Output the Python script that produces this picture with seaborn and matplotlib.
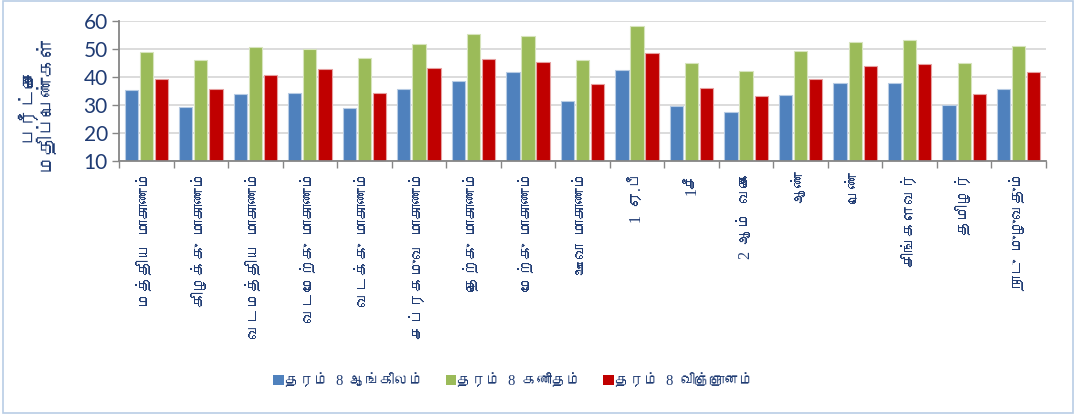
import matplotlib
matplotlib.use("Agg")
import matplotlib.pyplot as plt
import seaborn as sns
import pandas as pd
import numpy as np
from matplotlib import font_manager
from matplotlib.patches import Rectangle, Patch
from matplotlib.ticker import FixedLocator

categories = ["மத்திய  மாகாணம்", "கிழக்கு  மாகாணம்", "வடமத்திய  மாகாணம்",
              "வடமேற்கு  மாகாணம்", "வடக்கு  மாகாணம்", "சப்ரகமுவ  மாகாணம்",
              "தெற்கு  மாகாணம்", "மேற்கு  மாகாணம்", "ஊவா  மாகாணம்",
              "1  ஏ.பீ", "1சீ", "2  ஆம்  வகை", "ஆண்", "பெண்",
              "சிங்களவர்", "தமிழர்", "நாடு  முழுவதும்"]
series_names = ["தரம்  8  ஆங்கிலம்", "தரம்  8  கணிதம்", "தரம்  8  விஞ்ஞானம்"]
english = [35.4, 29.2, 33.9, 34.3, 28.9, 35.6, 38.6, 41.7, 31.4,
           42.6, 29.6, 27.5, 33.5, 37.9, 37.7, 30.1, 35.7]
maths = [48.8, 46.1, 50.7, 50.0, 46.9, 51.8, 55.5, 54.8, 46.0,
         58.1, 44.9, 42.3, 49.3, 52.5, 53.2, 45.0, 50.9]
science = [39.2, 35.6, 40.8, 42.9, 34.2, 43.2, 46.3, 45.4, 37.5,
           48.6, 36.0, 33.2, 39.4, 43.8, 44.5, 33.9, 41.8]
y_ticks = [10, 20, 30, 40, 50, 60]
y_label = "பரீட்சை\nமதிப்பெண்கள்"

colors = ["#4F81BD", "#9BBB59", "#C00000"]
edge_colors = ["#B8CCE4", "#D7E4BD", "#E6A0A0"]
navy = "#1F3B73"


def find_tamil_font():
    try:
        from fontTools.ttLib import TTFont
    except Exception:
        return None
    seen = set()
    for f in font_manager.fontManager.ttflist:
        if f.fname in seen:
            continue
        seen.add(f.fname)
        try:
            tt = TTFont(f.fname, fontNumber=0, lazy=True)
            cmap = tt.getBestCmap()
            if cmap and 0x0B95 in cmap and 0x0BAE in cmap:
                return f.name
        except Exception:
            continue
    return None


sns.set_theme(style="white")
tamil = find_tamil_font()
fams = ["Liberation Serif"] + ([tamil] if tamil else []) + ["DejaVu Sans"]
plt.rcParams["font.family"] = fams

df = pd.DataFrame({
    "cat": categories * 3,
    "series": sum([[s] * len(categories) for s in series_names], []),
    "value": english + maths + science,
})

fig = plt.figure(figsize=(10.79, 4.15), dpi=100)
ax = fig.add_axes([119 / 1079, 1 - 161 / 415, (1046 - 119) / 1079, 140 / 415])

sns.barplot(data=df, x="cat", y="value", hue="series", palette=colors,
            saturation=1, width=0.83, gap=0.12, ax=ax, legend=False,
            errorbar=None)

# subtle light edges like the reference
for i, cont in enumerate(ax.containers):
    for bar in cont:
        bar.set_edgecolor(edge_colors[i])
        bar.set_linewidth(0.8)

ax.set_ylim(10, 60)
ax.set_yticks(y_ticks)
ax.set_yticklabels([str(t) for t in y_ticks], fontsize=15, color=navy,
                   family=["Lato", "DejaVu Sans"])
ax.set_xlim(-0.5, len(categories) - 0.5)
ax.set_xticks(range(len(categories)))
ax.set_xticklabels(categories, rotation=90, ha="center", va="top",
                   fontsize=11.5, color=navy, family=fams)
ax.xaxis.set_minor_locator(FixedLocator(np.arange(-0.5, len(categories), 1)))
ax.tick_params(axis="x", which="major", length=0, pad=7)
ax.tick_params(axis="x", which="minor", length=5, color="#868686", width=1,
               direction="out", bottom=True)
ax.tick_params(axis="y", length=5, color="#868686", width=1, direction="out",
               left=True, pad=3)

ax.grid(axis="y", color="#D9D9D9", linewidth=1.3)
ax.set_axisbelow(True)
for s in ["top", "right"]:
    ax.spines[s].set_visible(False)
for s in ["left", "bottom"]:
    ax.spines[s].set_color("#868686")
    ax.spines[s].set_linewidth(1.3)

ax.set_xlabel("")
ax.set_ylabel(y_label, fontsize=14, color=navy, linespacing=0.95)
ax.yaxis.set_label_coords((56 - 119) / 927, (161 - 103) / 140)

handles = [Patch(facecolor=c, edgecolor="none") for c in colors]
fig.legend(handles, series_names, loc="center", bbox_to_anchor=(0.476, 0.082),
           ncol=3, frameon=False, fontsize=10.5, handlelength=0.7,
           handleheight=0.7, handletextpad=0.1, columnspacing=1.5,
           labelcolor=navy)

fig.patches.append(Rectangle((0.003, 0.004), 0.991, 0.994,
                             transform=fig.transFigure, fill=False,
                             edgecolor="#B9CDE5", linewidth=1.2))

fig.savefig("out.png", dpi=100, facecolor="white")
